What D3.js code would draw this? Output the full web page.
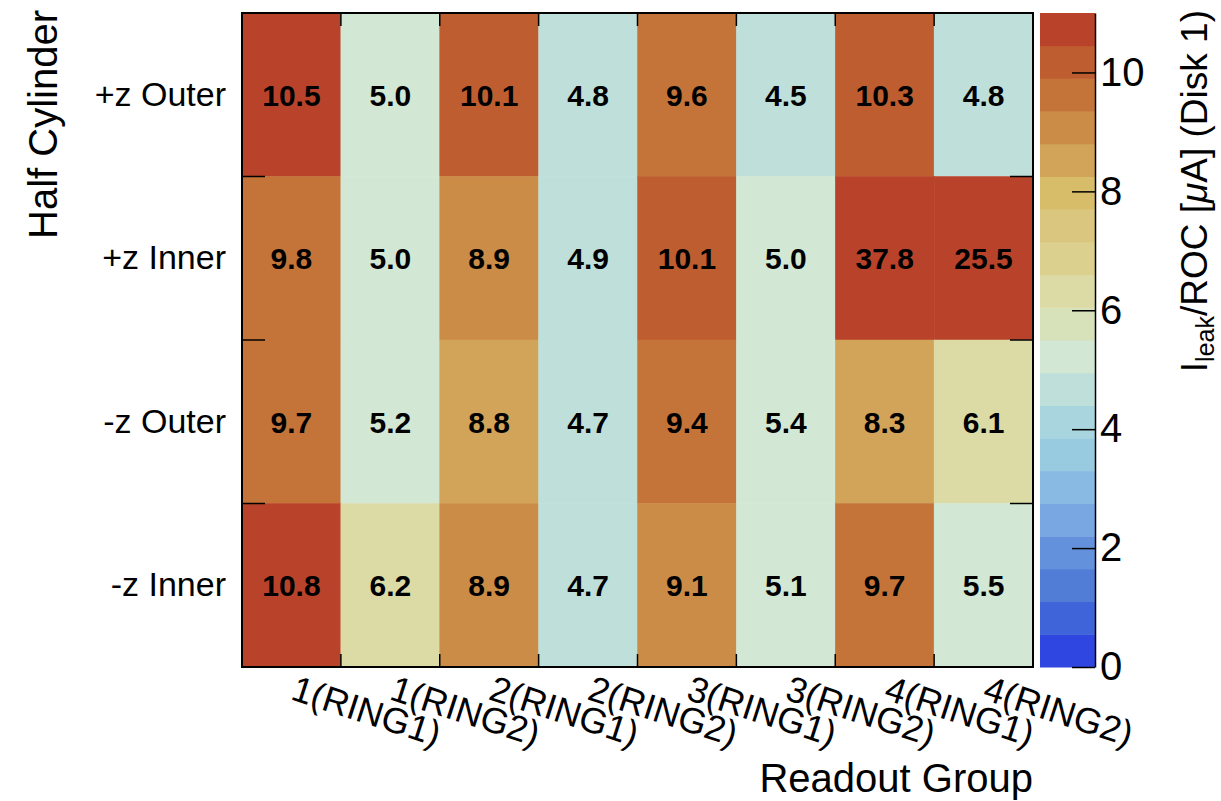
<!DOCTYPE html>
<html>
<head>
<meta charset="utf-8">
<script src="https://cdn.jsdelivr.net/npm/d3@7"></script>
<style>
  html, body { margin: 0; padding: 0; background: #fff; }
  svg { display: block; font-family: "Liberation Sans", Arial, Helvetica, sans-serif; }
</style>
</head>
<body>
<svg id="chart" width="1221" height="801"></svg>
<script>
// Readout groups along x, half cylinders along y (top to bottom)
const groups = ["1(RING1)", "1(RING2)", "2(RING1)", "2(RING2)", "3(RING1)", "3(RING2)", "4(RING1)", "4(RING2)"];
const halves = ["+z Outer", "+z Inner", "-z Outer", "-z Inner"];

// Leakage current per ROC [uA], one array per half cylinder
const plusZOuter  = [10.5, 5.0, 10.1, 4.8, 9.6, 4.5, 10.3, 4.8];
const plusZInner  = [9.8, 5.0, 8.9, 4.9, 10.1, 5.0, 37.8, 25.5];
const minusZOuter = [9.7, 5.2, 8.8, 4.7, 9.4, 5.4, 8.3, 6.1];
const minusZInner = [10.8, 6.2, 8.9, 4.7, 9.1, 5.1, 9.7, 5.5];
const rows = [plusZOuter, plusZInner, minusZOuter, minusZInner];

// Color axis range and tick labels
const zRange = [0, 11];
const zTicks = [0, 2, 4, 6, 8, 10];
const nContours = 20;

// Temperature-style palette, one colour per contour band (low to high)
const palette = [
  "#2f46e0", "#3f63d8", "#517dd7", "#6491db", "#79a7e2",
  "#89bae3", "#99cbe0", "#a9d6de", "#bfe0da", "#d2e7d4",
  "#d7e1ba", "#dcdba5", "#dcd08f", "#dac67e", "#d7bd69",
  "#d2a459", "#cb8c47", "#c47439", "#be5d2f", "#b9432a"
];

const frame = { left: 242, right: 1033, top: 13, bottom: 667 };
const bar = { left: 1040, right: 1095 };
const tickLen = 23;

const svg = d3.select("#chart");

const x = d3.scaleBand().domain(groups).range([frame.left, frame.right]);
const y = d3.scaleBand().domain(halves).range([frame.top, frame.bottom]);
const z = d3.scaleLinear().domain(zRange).range([frame.bottom, frame.top]);

// contour levels; a value sitting on a level belongs to the band below it
const levels = d3.range(1, nContours).map(k => (k * (zRange[1] - zRange[0])) / nContours + zRange[0]);
const colorOf = v => palette[Math.min(nContours - 1, d3.bisectLeft(levels, v))];

const cells = [];
rows.forEach((vals, r) => vals.forEach((v, c) => cells.push({ row: halves[r], col: groups[c], v })));

// heat-map cells
svg.append("g")
  .selectAll("rect")
  .data(cells)
  .join("rect")
  .attr("x", d => x(d.col))
  .attr("y", d => y(d.row))
  .attr("width", x.bandwidth())
  .attr("height", y.bandwidth())
  .attr("fill", d => colorOf(d.v))
  .attr("stroke", d => colorOf(d.v))
  .attr("stroke-width", 0.5);

// value labels
svg.append("g")
  .selectAll("text")
  .data(cells)
  .join("text")
  .attr("x", d => x(d.col) + x.bandwidth() / 2)
  .attr("y", d => y(d.row) + y.bandwidth() / 2)
  .attr("dy", "0.36em")
  .attr("text-anchor", "middle")
  .attr("font-size", 30)
  .attr("font-weight", "bold")
  .attr("fill", "#000")
  .text(d => d.v.toFixed(1));

// frame ticks at cell boundaries
const tickG = svg.append("g").attr("stroke", "#000").attr("stroke-width", 1.5);
halves.slice(1).forEach(h => {
  const yy = y(h);
  tickG.append("line").attr("x1", frame.left).attr("x2", frame.left + tickLen).attr("y1", yy).attr("y2", yy);
  tickG.append("line").attr("x1", frame.right).attr("x2", frame.right - tickLen).attr("y1", yy).attr("y2", yy);
});
groups.slice(1).forEach(g => {
  const xx = x(g);
  tickG.append("line").attr("x1", xx).attr("x2", xx).attr("y1", frame.bottom).attr("y2", frame.bottom - 13);
  tickG.append("line").attr("x1", xx).attr("x2", xx).attr("y1", frame.top).attr("y2", frame.top + 13);
});

// frame
svg.append("rect")
  .attr("x", frame.left).attr("y", frame.top)
  .attr("width", frame.right - frame.left).attr("height", frame.bottom - frame.top)
  .attr("fill", "none").attr("stroke", "#000").attr("stroke-width", 2);

// y category labels
const yAxis = d3.axisLeft(y).tickSize(0).tickPadding(16);
const yG = svg.append("g").attr("transform", `translate(${frame.left},0)`).call(yAxis);
yG.select(".domain").remove();
yG.selectAll("text").attr("font-size", 34).attr("fill", "#000").attr("font-family", null);

// x category labels, slanted
svg.append("g")
  .selectAll("text")
  .data(groups)
  .join("text")
  .attr("transform", d => `translate(${x(d) + x.bandwidth() / 2 - 2},${frame.bottom + 32}) rotate(18)`)
  .attr("text-anchor", "start")
  .attr("font-size", 36)
  .attr("fill", "#000")
  .text(d => d);

// axis titles
svg.append("text")
  .attr("transform", `translate(57,${frame.top - 3}) rotate(-90)`)
  .attr("text-anchor", "end")
  .attr("font-size", 40)
  .text("Half Cylinder");

svg.append("text")
  .attr("x", frame.right).attr("y", 792)
  .attr("text-anchor", "end")
  .attr("font-size", 40)
  .text("Readout Group");

// colour bar
const bandH = (frame.bottom - frame.top) / nContours;
svg.append("g")
  .selectAll("rect")
  .data(palette)
  .join("rect")
  .attr("x", bar.left)
  .attr("y", (d, i) => z(zRange[0] + (i + 1) * (zRange[1] - zRange[0]) / nContours))
  .attr("width", bar.right - bar.left)
  .attr("height", bandH + 0.5)
  .attr("fill", d => d);

const zAxis = d3.axisRight(z).tickValues(zTicks).tickSizeInner(-tickLen).tickSizeOuter(0).tickPadding(5);
const zG = svg.append("g").attr("transform", `translate(${bar.right},0)`).call(zAxis);
zG.select(".domain").attr("stroke", "#000").attr("stroke-width", 1.5);
zG.selectAll(".tick line").attr("stroke", "#000").attr("stroke-width", 1.5);
zG.selectAll("text").attr("font-size", 40).attr("fill", "#000").attr("font-family", null);

// colour bar title
const zt = svg.append("text")
  .attr("transform", `translate(1207,${frame.top - 3}) rotate(-90)`)
  .attr("text-anchor", "end")
  .attr("font-size", 37);
zt.append("tspan").text("I");
zt.append("tspan").attr("font-size", 25).attr("dy", 7).text("leak");
zt.append("tspan").attr("dy", -7).text("/ROC [");
zt.append("tspan").attr("font-style", "italic").text("\u03bc");
zt.append("tspan").text("A] (Disk 1)");
</script>
</body>
</html>
